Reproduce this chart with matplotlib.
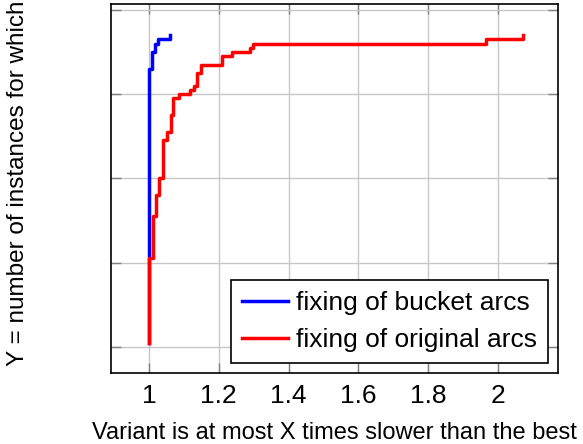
import matplotlib.pyplot as plt

plt.rcParams['font.family'] = ['Liberation Sans', 'DejaVu Sans']

# step curves: x where the count jumps, count reached at that x
bucket_x = [1.0, 1.0, 1.0095, 1.017, 1.027, 1.06]
bucket_y = [1, 66, 70, 72, 73, 74]

orig_x = [1.0, 1.0, 1.0105, 1.019, 1.029, 1.039, 1.051, 1.062, 1.069, 1.087,
          1.117, 1.129, 1.138, 1.148, 1.208, 1.239, 1.289, 1.299, 1.967, 2.071]
orig_y = [1, 21, 31, 36, 40, 49, 51, 55, 59, 60,
          61, 62, 65, 67, 69, 70, 71, 72, 73, 74]

xticks = [1, 1.2, 1.4, 1.6, 1.8, 2]
xtick_labels = ["1", "1.2", "1.4", "1.6", "1.8", "2"]
yticks = [0, 20, 40, 60, 80]

fig = plt.figure(figsize=(5.83, 4.44), dpi=100)
ax = fig.add_axes([0.1904, 0.16, 0.7666, 0.831])

ax.step(bucket_x, bucket_y, where="post", color="blue", lw=2.5, label="fixing of bucket arcs")
ax.step(orig_x, orig_y, where="post", color="red", lw=2.5, label="fixing of original arcs")

ax.set_xlim(0.891, 2.172)
ax.set_ylim(-6.2, 81.4)
ax.set_xticks(xticks)
ax.set_xticklabels(xtick_labels, fontsize=19)
ax.set_yticks(yticks)
ax.set_yticklabels([])
ax.tick_params(direction="in", length=7, width=1, color="0.5",
               top=True, right=True, pad=8)
ax.grid(color="0.78", lw=1)
ax.set_axisbelow(True)
for s in ax.spines.values():
    s.set_linewidth(1.2)

ax.set_xlabel("Variant is at most X times slower than the best", fontsize=17, labelpad=10)
fig.text(18 / 583, (444 - 366) / 444, "Y = number of instances for which",
         rotation=90, ha="center", va="bottom", fontsize=17.5)

leg = ax.legend(loc="lower right", bbox_to_anchor=(0.978, 0.027), borderaxespad=0,
                fontsize=19, fancybox=False, framealpha=1, edgecolor="black",
                handlelength=1.75, handletextpad=0.3, borderpad=0.42, labelspacing=0.48)
leg.get_frame().set_linewidth(1.2)

plt.savefig("out.png", dpi=100)
